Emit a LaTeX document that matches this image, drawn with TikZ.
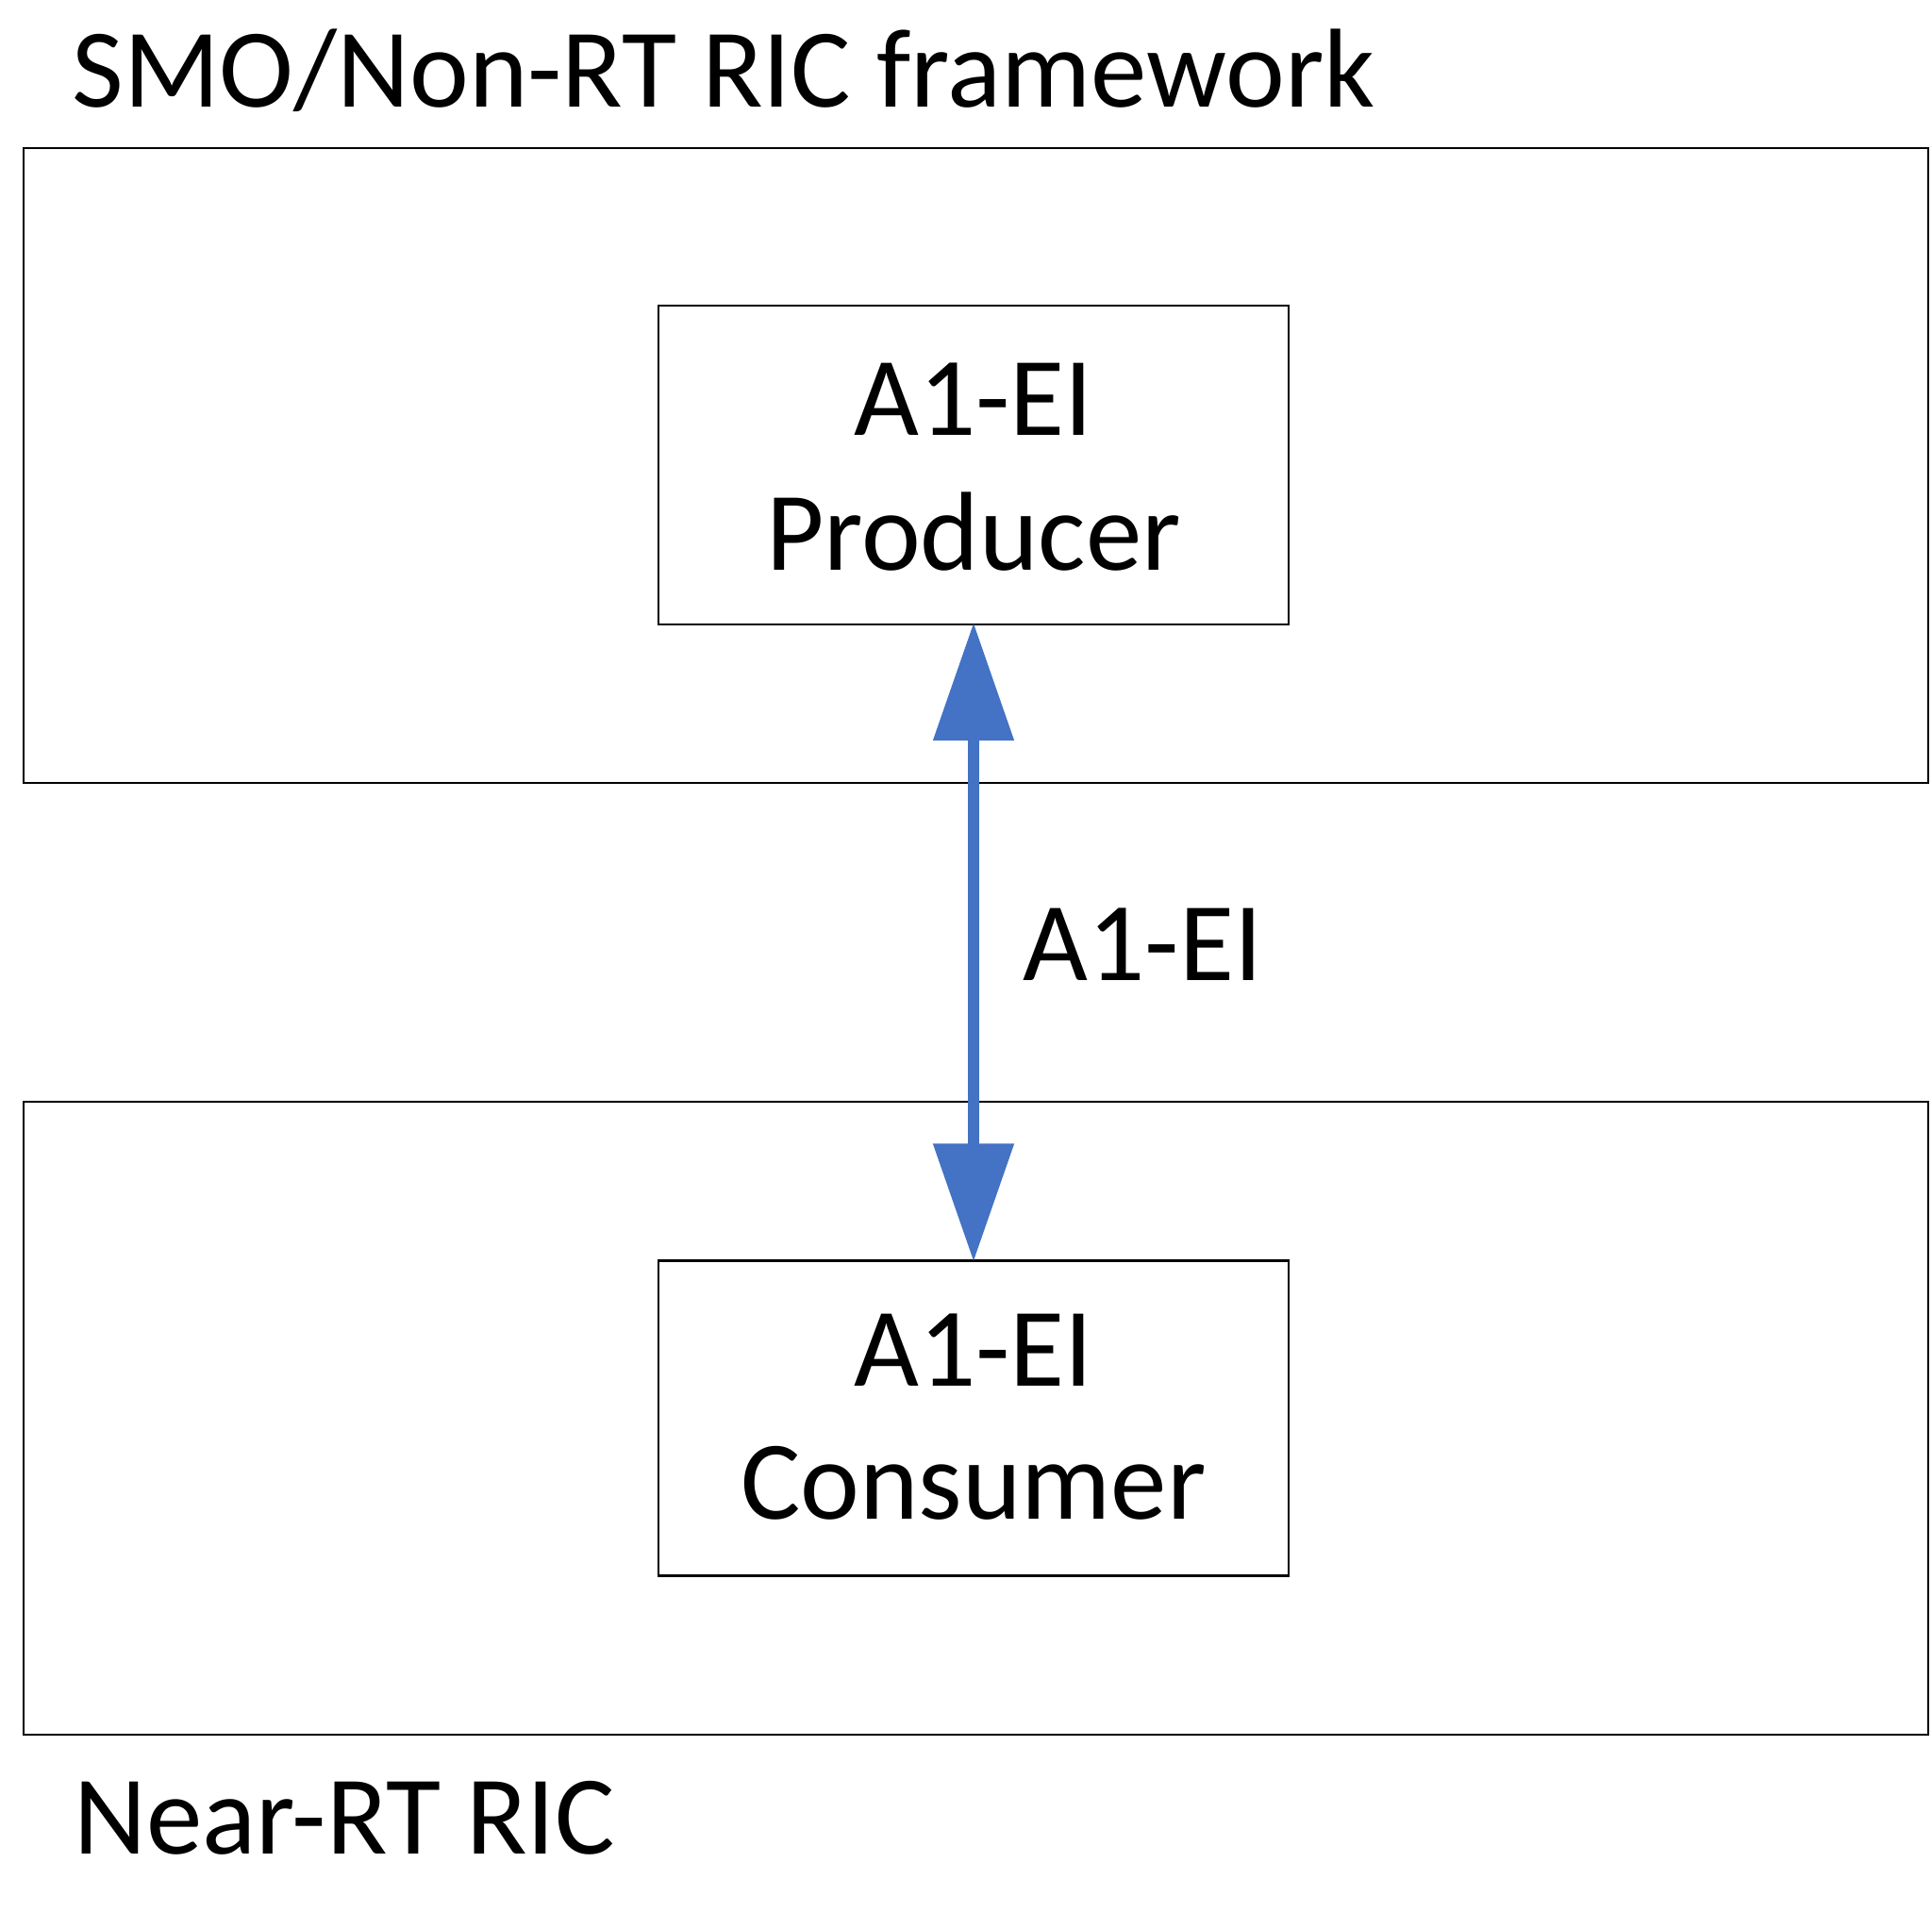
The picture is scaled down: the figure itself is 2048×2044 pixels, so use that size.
\documentclass[tikz,border=0pt]{standalone}
\usepackage{fontspec}
\setmainfont{Carlito}
\usetikzlibrary{arrows.meta}
\definecolor{arrowblue}{HTML}{4472C4}
\tikzset{
  outerbox/.style={draw=black, line width=1.2pt},
  innerbox/.style={draw=black, line width=1.2pt, rectangle, inner sep=0pt},
  txt/.style={inner sep=0pt, font=\fontsize{59.5pt}{72pt}\selectfont},
  link/.style={draw=arrowblue, line width=6pt,
    {Triangle[length=62.5pt,width=41.5pt]}-{Triangle[length=62.5pt,width=41.5pt]}, shorten <=-1.5pt, shorten >=-1pt}
}
\begin{document}
\begin{tikzpicture}[x=0.5pt,y=-0.5pt]
\useasboundingbox (0,0) rectangle (2048,2044);
% outer frames
\draw[outerbox] (25,157) rectangle (2044,830);
\draw[outerbox] (25,1168) rectangle (2044,1839);
% titles
\node[txt, anchor=base west] (smo) at (76,114) {SMO/Non-RT RIC framework};
\node[txt, anchor=base west] (near) at (78,1965) {Near-RT RIC};
% inner boxes
\node[innerbox, minimum width=334pt, minimum height=169pt] (prod) at (1032,493) {};
\node[innerbox, minimum width=334pt, minimum height=167pt] (cons) at (1032,1503.5) {};
\node[txt, anchor=base] (prodA) at (1032,461) {A1-EI};
\node[txt, anchor=base] (prodB) at (1032,604) {Producer};
\node[txt, anchor=base] (consA) at (1032,1469) {A1-EI};
\node[txt, anchor=base] (consB) at (1032,1610) {Consumer};
% connector
\draw[link] (prod.south) -- (cons.north);
\node[txt, anchor=base west] (lbl) at (1084,1039) {A1-EI};
\end{tikzpicture}
\end{document}
